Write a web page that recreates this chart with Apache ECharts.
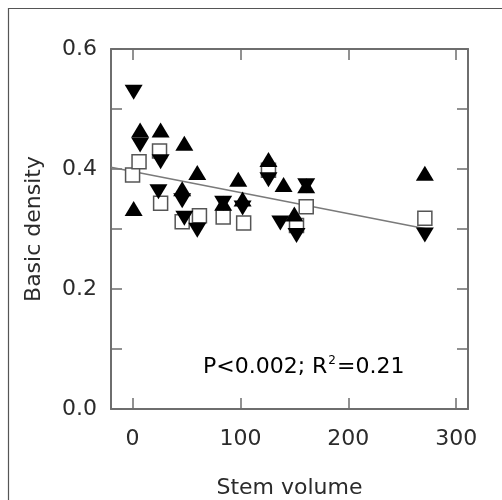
<!DOCTYPE html>
<html>
<head>
<meta charset="utf-8">
<script src="https://cdn.jsdelivr.net/npm/echarts@6/dist/echarts.min.js"></script>
<style>
  html, body { margin: 0; padding: 0; background: #fff; }
  #main { width: 502px; height: 500px; }
</style>
</head>
<body>
<div id="main"></div>
<script>
// filled up triangles
var upX = [1, 7, 26, 48, 46, 60, 84, 98, 102, 126, 140, 150, 161, 271];
var upY = [0.334, 0.465, 0.465, 0.443, 0.367, 0.394, 0.343, 0.383, 0.35, 0.416, 0.374, 0.325, 0.372, 0.393];
// filled down triangles
var downX = [1, 7, 26, 24, 46, 48, 60, 84, 102, 126, 137, 152, 161, 271];
var downY = [0.528, 0.44, 0.412, 0.362, 0.347, 0.318, 0.298, 0.343, 0.335, 0.382, 0.31, 0.289, 0.372, 0.29];
// open squares
var sqX = [0, 6, 25, 26, 46, 62, 84, 103, 126, 152, 161, 271];
var sqY = [0.39, 0.412, 0.43, 0.343, 0.312, 0.322, 0.32, 0.31, 0.398, 0.306, 0.337, 0.318];
// regression line end points
var fitX = [-20, 273];
var fitY = [0.403, 0.30];

var xTicks = [0, 100, 200, 300];

function pairs(xs, ys) {
  return xs.map(function (x, i) { return [x, ys[i]]; });
}

var axisCol = '#6e6e6e';
var textCol = '#2b2b2b';
var font = 'DejaVu Sans';

var chart = echarts.init(document.getElementById('main'));

var xBase = {
  type: 'value', min: -20, max: 311,
  axisLine: { onZero: false, lineStyle: { color: axisCol, width: 2 } },
  axisTick: { inside: true, length: 11, customValues: xTicks, lineStyle: { color: axisCol, width: 1.5 } },
  splitLine: { show: false }
};
var yBase = {
  type: 'value', min: 0, max: 0.6, interval: 0.1,
  axisLine: { onZero: false, lineStyle: { color: axisCol, width: 2 } },
  axisTick: { inside: true, length: 11, lineStyle: { color: axisCol, width: 1.5 } },
  splitLine: { show: false }
};

chart.setOption({
  animation: false,
  grid: { left: 111, right: 34, top: 49, bottom: 91, outerBoundsMode: 'none' },
  xAxis: [
    Object.assign({}, xBase, {
      position: 'bottom',
      name: 'Stem volume', nameLocation: 'middle', nameGap: 68,
      nameTextStyle: { fontFamily: font, fontSize: 22, color: textCol },
      axisLabel: { customValues: xTicks, margin: 19, fontFamily: font, fontSize: 22, color: textCol }
    }),
    Object.assign({}, xBase, { position: 'top', axisLabel: { show: false } })
  ],
  yAxis: [
    Object.assign({}, yBase, {
      position: 'left',
      name: 'Basic density', nameLocation: 'middle', nameGap: 66,
      nameTextStyle: { fontFamily: font, fontSize: 22, color: textCol },
      axisLabel: {
        margin: 14, fontFamily: font, fontSize: 22, color: textCol,
        formatter: function (v) { return Math.round(v * 10) % 2 === 0 ? v.toFixed(1) : ''; }
      }
    }),
    Object.assign({}, yBase, { position: 'right', axisLabel: { show: false } })
  ],
  graphic: [
    // outer frame, only top and left edges are inside the picture
    {
      type: 'polyline', silent: true,
      shape: { points: [[8.5, 500], [8.5, 8.5], [502, 8.5]] },
      style: { fill: null, stroke: '#555', lineWidth: 1.2 }
    },
    {
      type: 'text', x: 203, y: 367,
      style: {
        text: '{a|P<0.002; R}{s|2}{a|=0.21}',
        verticalAlign: 'middle',
        rich: {
          a: { fontFamily: font, fontSize: 22, color: textCol, lineHeight: 26 },
          s: { fontFamily: font, fontSize: 12, color: textCol, lineHeight: 26, padding: [0, 1, 12, 1] }
        }
      }
    }
  ],
  series: [
    {
      type: 'line', data: pairs(fitX, fitY), symbol: 'none',
      lineStyle: { color: '#7a7a7a', width: 1.5 }, z: 1
    },
    {
      type: 'scatter', data: pairs(sqX, sqY), symbol: 'rect', symbolSize: 14,
      itemStyle: { color: '#fff', borderColor: '#555', borderWidth: 1.5, opacity: 1 }, z: 2
    },
    {
      type: 'scatter', data: pairs(upX, upY), symbol: 'triangle', symbolSize: [18, 15],
      itemStyle: { color: '#000', opacity: 1 }, z: 3
    },
    {
      type: 'scatter', data: pairs(downX, downY), symbol: 'triangle', symbolRotate: 180, symbolSize: [18, 15],
      itemStyle: { color: '#000', opacity: 1 }, z: 3
    }
  ]
});
</script>
</body>
</html>
